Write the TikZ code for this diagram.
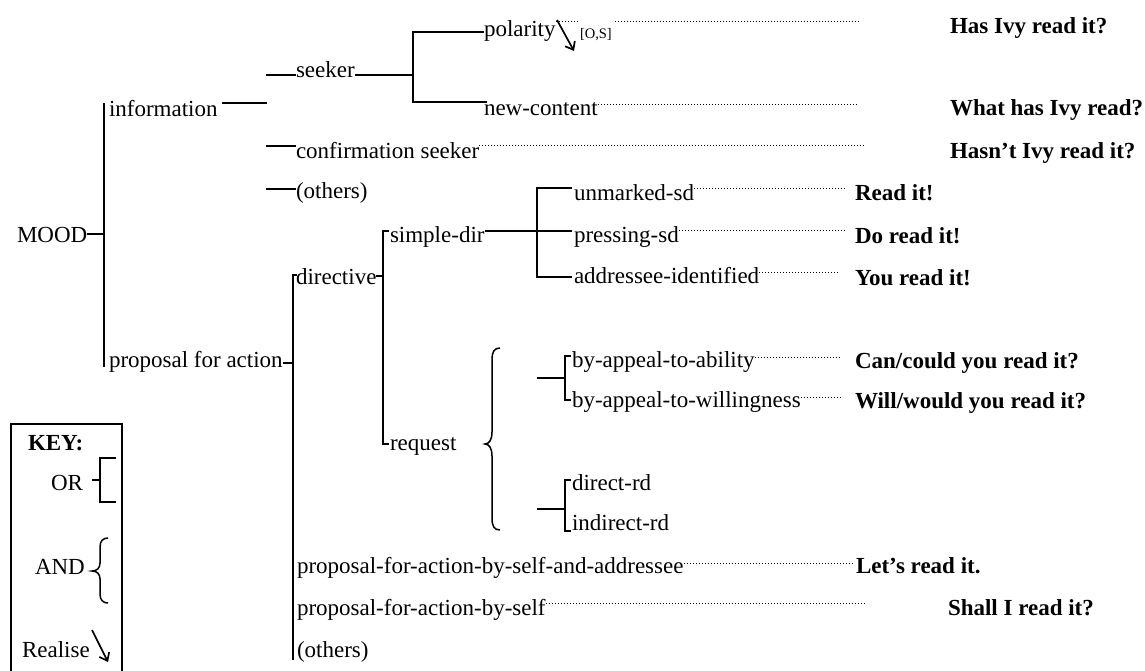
\documentclass[tikz,border=0pt]{standalone}
\usepackage{fontspec}
\setmainfont{Liberation Serif}
\usetikzlibrary{arrows.meta}
\newcommand\netsize{\fontsize{23}{27}\selectfont}
\begin{document}
\begin{tikzpicture}[x=1pt,y=-1pt,
  txt/.style={anchor=base west,inner sep=0pt,outer sep=0pt,font=\netsize},
  ans/.style={txt,font=\netsize\bfseries},
  sys/.style={line width=1.8pt},
  lead/.style={line width=0.9pt,dash pattern=on 0.9pt off 2.1pt},
  realize/.style={line width=1.7pt,-{Straight Barb[length=7pt,width=11pt]}},
  curly/.style={line width=1.5pt}]
\useasboundingbox (0,0) rectangle (1145,670);

% ---- features ----
\node[txt] (mood) at (17,242) {MOOD};
\node[txt] (info) at (109,116) {information};
\node[txt] (pfa)  at (109,367) {proposal for action};
\node[txt] (seeker) at (296,77) {seeker};
\node[txt] (conf) at (296,158) {confirmation seeker};
\node[txt] (oth1) at (296,198) {(others)};
\node[txt] (pol)  at (484,36) {polarity};
\node[txt] (newc) at (484,115) {new-content};
\node[txt,font=\fontsize{14.5}{16}\selectfont] (os) at (580,38) {[O,S]};
\node[txt] (dir)  at (296,284) {directive};
\node[txt] (sdir) at (390,242) {simple-dir};
\node[txt] (req)  at (390,450) {request};
\node[txt] (unm)  at (574,200) {unmarked-sd};
\node[txt] (press) at (574,242) {pressing-sd};
\node[txt] (addr) at (574,283) {addressee-identified};
\node[txt] (abil) at (572,367) {by-appeal-to-ability};
\node[txt] (will) at (572,407) {by-appeal-to-willingness};
\node[txt] (drd)  at (572,490) {direct-rd};
\node[txt] (ird)  at (572,530) {indirect-rd};
\node[txt] (pfsa) at (297,573) {proposal-for-action-by-self-and-addressee};
\node[txt] (pfs)  at (297,615) {proposal-for-action-by-self};
\node[txt] (oth2) at (297,657) {(others)};

% ---- example realisations ----
\node[ans] (e1)  at (950,33)  {Has Ivy read it?};
\node[ans] (e2)  at (950,115) {What has Ivy read?};
\node[ans] (e3)  at (950,158) {Hasn’t Ivy read it?};
\node[ans] (e4)  at (855,200) {Read it!};
\node[ans] (e5)  at (855,243) {Do read it!};
\node[ans] (e6)  at (855,285) {You read it!};
\node[ans] (e7)  at (855,368) {Can/could you read it?};
\node[ans] (e8)  at (855,408) {Will/would you read it?};
\node[ans] (e9)  at (856,573) {Let’s read it.};
\node[ans] (e10) at (948,615) {Shall I read it?};

% ---- system lines ----
\draw[sys] (mood.east |- 0,234) -- (104,234);
\draw[sys] (104,103) -- (104,367);
\draw[sys] (222,103) -- (267,103);
\draw[sys] (266,75) -- (seeker.west |- 0,75);
\draw[sys] (seeker.east |- 0,75) -- (413,75);
\draw[sys] (487,102) -- (413,102) -- (413,32) -- (pol.west |- 0,32);
\draw[sys] (266,146) -- (conf.west |- 0,146);
\draw[sys] (266,189) -- (oth1.west |- 0,189);

\draw[sys] (pfa.east |- 0,363) -- (293,363);
\draw[sys] (297,275) -- (293,275) -- (293,660);
\draw[sys] (dir.east |- 0,276) -- (383,276);
\draw[sys] (389,231) -- (383,231) -- (383,444) -- (389,444);
\draw[sys] (sdir.east |- 0,231) -- (537,231);
\draw[sys] (572,188) -- (537,188) -- (537,277) -- (572,277);
\draw[sys] (537,231) -- (572,231);

\draw[sys] (537,378) -- (565,378);
\draw[sys] (571,356) -- (565,356) -- (565,400) -- (571,400);
\draw[sys] (537,509) -- (565,509);
\draw[sys] (571,480) -- (565,480) -- (565,531) -- (571,531);

% AND brace under request
\draw[curly] (500,348) .. controls (494,348) and (492,352) .. (492,360)
  -- (492,432) .. controls (492,440) and (489,444) .. (485,444)
  .. controls (489,444) and (492,448) .. (492,456)
  -- (492,518) .. controls (492,526) and (494,530) .. (500,530);

% realisation arrow on polarity
\draw[realize] (557,20) -- (574,51);

% ---- dotted leaders ----
\draw[lead] (pol.east |- 0,21) -- (577,21);
\draw[lead] (615,21) -- (860,21);
\draw[lead] (newc.east |- 0,104) -- (858,104);
\draw[lead] (conf.east |- 0,145) -- (865,145);
\draw[lead] (unm.east |- 0,188) -- (845,188);
\draw[lead] (press.east |- 0,230) -- (845,230);
\draw[lead] (addr.east |- 0,272) -- (838,272);
\draw[lead] (abil.east |- 0,357) -- (840,357);
\draw[lead] (will.east |- 0,397) -- (840,397);
\draw[lead] (pfsa.east |- 0,563) -- (852,563);
\draw[lead] (pfs.east |- 0,603) -- (866,603);

% ---- key ----
\draw[line width=1.5pt] (11,672) -- (11,424) -- (122,424) -- (122,672);
\node[ans] (key) at (28,450) {KEY:};
\node[txt] (or)  at (51,490) {OR};
\node[txt] (and) at (35,574) {AND};
\node[txt] (rl)  at (22,657) {Realise};
\draw[sys] (92,480) -- (100,480);
\draw[sys] (116,458) -- (100,458) -- (100,502) -- (116,502);
\draw[curly] (108,538) .. controls (103,538) and (100,541) .. (100,547)
  -- (100,563) .. controls (100,568) and (97,571) .. (92,571)
  .. controls (97,571) and (100,574) .. (100,579)
  -- (100,594) .. controls (100,600) and (103,603) .. (108,603);
\draw[realize] (92,630) -- (108,662);
\end{tikzpicture}
\end{document}
